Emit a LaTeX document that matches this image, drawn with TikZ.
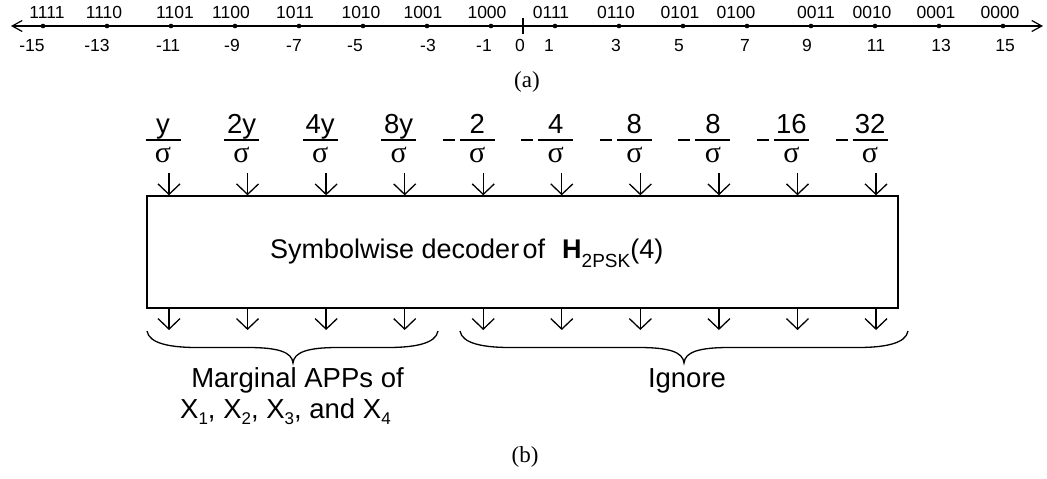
\documentclass[tikz,border=0pt]{standalone}
\usepackage{fontspec}
\setmainfont{Liberation Sans}
\newfontfamily\seriffont{Liberation Serif}
\usetikzlibrary{arrows.meta}
\newcommand\lowsub[3]{\raisebox{-#2}{\fontsize{#1}{#1}\selectfont #3}}
\begin{document}
\begin{tikzpicture}[x=1pt,y=-1pt,
  axis/.style={line width=1.2pt},
  dotmark/.style={circle,fill=black,inner sep=0pt,minimum size=4.6pt},
  numlbl/.style={inner sep=0pt,anchor=base,font=\fontsize{17.5}{20}\selectfont},
  arr/.style={line width=1.3pt,-{Straight Barb[length=10.5pt,width=22pt]}},
  btxt/.style={inner sep=0pt,anchor=base,font=\fontsize{27}{30}\selectfont},
  fractxt/.style={inner sep=0pt,anchor=base,font=\fontsize{27.5}{30}\selectfont},
  lbltxt/.style={inner sep=0pt,anchor=base,font=\fontsize{27.5}{30}\selectfont},
  sig/.style={inner sep=0pt,anchor=base,font=\fontsize{30}{32}\selectfont\seriffont},
  captxt/.style={inner sep=0pt,anchor=base,font=\fontsize{23}{26}\selectfont\seriffont},
  fracbar/.style={line width=1.3pt},
  bracestyle/.style={line width=1.3pt},
]
\useasboundingbox (0,0) rectangle (1047,479);
% ---------- (a) number line ----------
\coordinate (L) at (11,26);
\coordinate (R) at (1043,26);
\draw[axis,{Straight Barb[length=10pt,width=11pt]}-{Straight Barb[length=10pt,width=11pt]}] (L) -- (R);
\coordinate (z0) at (523,18);
\draw[axis] (z0) -- ++(0,16);
\foreach \v in {-15,-13,...,15}
  \node[dotmark] (d\v) at ({523+32*\v},26) {};
\foreach \x/\t in {47/1111,104/1110,175/1101,231/1100,295/1011,361/1010,423/1001,487/1000,551/0111,616/0110,680/0101,736/0100,816/0011,872/0010,936/0001,1000/0000}
  \node[numlbl] (b\t) at (\x,19) {\t};
\foreach \x/\t [count=\i] in {32/-15,97/-13,168/-11,232/-9,294/-7,355/-5,428/-3,484/-1,520/0,549/1,616/3,679/5,745/7,807/9,876/11,941/13,1005/15}
  \node[numlbl] (v\i) at (\x,51) {\t};
\node[captxt] (capa) at (527,87.5) {(a)};
% ---------- (b) ----------
\node[draw,line width=1.4pt,minimum width=751pt,minimum height=112pt,inner sep=0pt] (box) at (522.5,252) {};
\node[btxt,anchor=base west] (boxtxt) at (270,258) {Symbolwise decoder\hspace{-0.15em} of\hspace{0.35em} \textbf{H}\lowsub{19}{9pt}{2PSK}(4)};
\foreach \num [count=\i from 0] in {y,2y,4y,8y,2,4,8,8,16,32} {
  \pgfmathsetmacro\ax{169+78.56*\i}
  \pgfmathsetmacro\fx{\ax-6}
  \node[fractxt] (num\i) at (\fx,133.5) {\num};
  \draw[fracbar] (\fx-17.5,140) -- (\fx+17.5,140);
  \ifnum\i>3 \draw[fracbar] (\fx-34.5,140) -- (\fx-22.5,140); \fi
  \node[sig] (den\i) at (\fx,162) {σ};
  \coordinate (in\i) at (\ax,173);
  \draw[arr] (in\i) -- (in\i |- box.north);
  \coordinate (out\i) at (\ax,330);
  \draw[arr] (out\i |- box.south) -- (out\i);
}
% braces
\draw[bracestyle] (147,331) .. controls (149,344) and (172,347.5) .. (197,347.5) -- (248,347.5)
  .. controls (278,347.5) and (292,352) .. (293,363)
  .. controls (294,352) and (308,347.5) .. (338,347.5) -- (388,347.5)
  .. controls (413,347.5) and (436,344) .. (438,331);
\draw[bracestyle] (460,331) .. controls (462,344) and (485,347.5) .. (510,347.5) -- (639,347.5)
  .. controls (669,347.5) and (683,352) .. (684,363)
  .. controls (685,352) and (699,347.5) .. (729,347.5) -- (858,347.5)
  .. controls (883,347.5) and (906,344) .. (908,331);
\node[lbltxt] (marg) at (297.5,387) {Marginal APPs of};
\node[lbltxt,anchor=base west] (xs) at (180,418) {X\lowsub{17}{6pt}{1}, X\lowsub{17}{6pt}{2}, X\lowsub{17}{6pt}{3}, and X\lowsub{17}{6pt}{4}};
\node[lbltxt] (ign) at (687,387) {Ignore};
\node[captxt] (capb) at (525,462.5) {(b)};
\end{tikzpicture}
\end{document}
